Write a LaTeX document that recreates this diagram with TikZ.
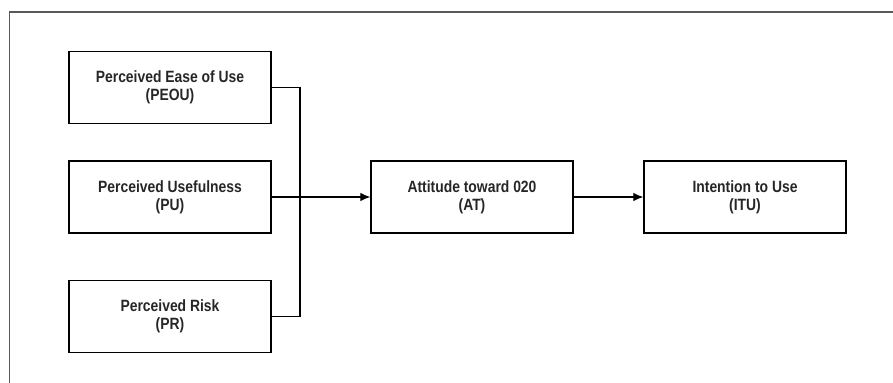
\documentclass[tikz,border=0pt]{standalone}
\usepackage{fontspec}
\usepackage{tikz}
\newfontfamily\boxfont[FakeStretch=0.85]{Liberation Sans}
\usetikzlibrary{positioning, arrows.meta}

\tikzset{
    construct/.style = {draw, line width=0.75pt, minimum width=4.04cm, minimum height=1.44cm,
        inner sep=0pt, align=center, font=\boxfont\bfseries\fontsize{9.3}{10.2}\selectfont,
        text=black!85},
    link/.style = {line width=0.6pt, -{Latex[length=0.2cm, width=0.17cm]}},
}

\begin{document}
\begin{tikzpicture}
        \useasboundingbox (0, 0) rectangle (17.86, -7.66);
        \draw[line width=1.1pt, black!65] (17.86, -0.24) -- (0.19, -0.24) -- (0.19, -7.66);
        \node[construct] (peou) at (3.40, -1.75) {Perceived Ease of Use\\(PEOU)};
        \node[construct] (pu) at (3.40, -3.94) {Perceived Usefulness\\(PU)};
        \node[construct] (pr) at (3.40, -6.33) {Perceived Risk\\(PR)};
        \node[construct] (at) at (9.44, -3.94) {Attitude toward 020\\(AT)};
        \node[construct] (itu) at (14.90, -3.94) {Intention to Use\\(ITU)};
        \coordinate (bus) at (6.00, -3.94);
        \draw[line width=0.6pt] (peou.east) -| (bus) |- (pr.east);
        \draw[link] (pu.east) -- (at.west);
        \draw[link] (at.east) -- (itu.west);
    \end{tikzpicture}
\end{document}
